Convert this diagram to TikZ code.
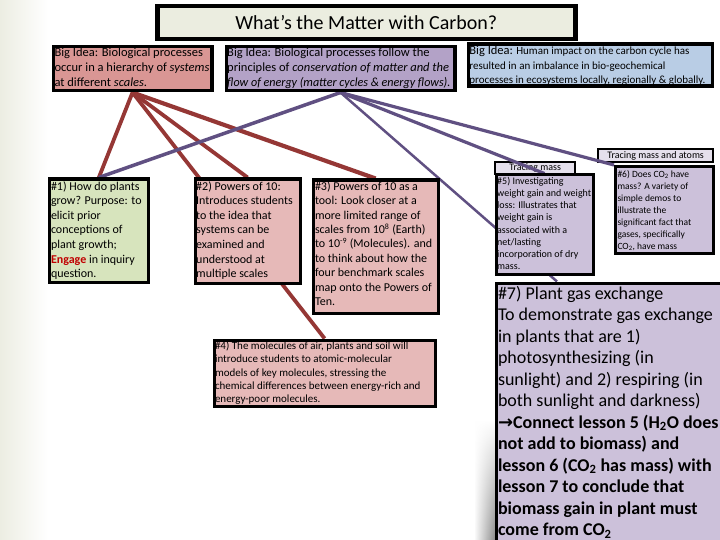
\documentclass[tikz,border=0pt]{standalone}
\usepackage{fontspec}
\setmainfont{Carlito}
\newfontfamily\symfont{DejaVu Sans}
\usetikzlibrary{calc,fadings}
\definecolor{titlefill}{RGB}{235,237,224}
\definecolor{bionefill}{RGB}{217,150,148}
\definecolor{bitwofill}{RGB}{179,162,199}
\definecolor{bithreefill}{RGB}{185,205,229}
\definecolor{greenfill}{RGB}{215,228,189}
\definecolor{pinkfill}{RGB}{230,185,184}
\definecolor{lavfill}{RGB}{204,193,218}
\definecolor{labfill}{RGB}{229,224,236}
\definecolor{redline}{RGB}{149,55,53}
\definecolor{purpline}{RGB}{96,80,130}
\definecolor{engred}{RGB}{192,0,0}
\definecolor{leftshade}{RGB}{236,237,226}
\pgfdeclarelayer{bg}
\pgfdeclarelayer{lab}
\pgfdeclarelayer{lines}
\pgfsetlayers{bg,lab,lines,main}
\tikzset{
  box/.style={draw=black, line width=3.2pt, inner sep=0pt, anchor=north west},
  labbox/.style={draw=black, line width=2.2pt, fill=labfill, inner sep=0pt, anchor=north west, font=\fontsize{10}{12}\selectfont},
  txt/.style={anchor=north west, inner sep=0pt, align=left},
  redln/.style={draw=redline, line width=3.8pt},
  purln/.style={draw=purpline, line width=3.2pt}
}
\begin{document}
\begin{tikzpicture}[x=1pt,y=-1pt]
\useasboundingbox (0,0) rectangle (720,540);
\begin{pgfonlayer}{bg}
\fill[white] (0,0) rectangle (720,540);
\shade[left color=leftshade, right color=white] (0,0) rectangle (48,540);
\shade[top color=white, bottom color={rgb,255:red,140;green,140;blue,140}, path fading=west] (474,420) rectangle (495,540);
\end{pgfonlayer}

% title
\node[box, line width=4.5pt, fill=titlefill, minimum width=418, minimum height=33, font=\fontsize{20}{24}\selectfont] (title) at (155,4) {What’s the Matter with Carbon?};

% big ideas
\node[box, line width=3.5pt, fill=bionefill, minimum width=158.5, minimum height=44] (bi1) at (51.5,45) {};
\node[txt, font=\fontsize{12.5}{15}\selectfont] (bi1t) at (54.3,45.5) {\strut Big Idea: Biological processes\\occur in a hierarchy of \textit{systems}\\at different \textit{scales.}};

\node[box, line width=3.5pt, fill=bitwofill, minimum width=228.5, minimum height=44] (bi2) at (224.5,45) {};
\node[txt, font=\fontsize{12.5}{15}\selectfont] (bi2t) at (227,45.5) {\strut Big Idea: Biological processes follow the\\principles of \textit{conservation of matter and the}\\{\addfontfeature{FakeStretch=0.965}\textit{flow of energy (matter cycles \& energy flows).}}};

\node[box, line width=3.5pt, fill=bithreefill, minimum width=244, minimum height=42] (bi3) at (466.5,42.5) {};
\node[txt, font=\fontsize{11}{14.5}\selectfont] (bi3t) at (469.2,44.2) {\strut{\fontsize{12.5}{14.5}\selectfont Big Idea:} Human impact on the carbon cycle has\\resulted in an imbalance in bio-geochemical\\processes in ecosystems locally, regionally \& globally.};

% lesson boxes
\node[box, fill=greenfill, minimum width=99.5, minimum height=103.5] (n1) at (47.5,177.5) {};
\node[txt, font=\fontsize{12}{14.6}\selectfont] (n1t) at (50.8,179.6) {\strut\#1) How do plants\\grow? Purpose: to\\elicit prior\\conceptions of\\plant growth;\\{\color{engred}\textbf{Engage}} in inquiry\\question.};

\node[box, fill=pinkfill, minimum width=105, minimum height=104.5] (n2) at (193.5,177.5) {};
\node[txt, font=\fontsize{12}{14.6}\selectfont] (n2t) at (196,179.6) {\strut\#2) Powers of 10:\\Introduces students\\to the idea that\\systems can be\\examined and\\understood at\\multiple scales};

\node[box, fill=pinkfill, minimum width=125, minimum height=133] (n3) at (311.5,178.5) {};
\node[txt, font=\fontsize{12}{14.4}\selectfont] (n3t) at (314.8,180) {\strut\#3) Powers of 10 as a\\tool: Look closer at a\\more limited range of\\scales from 10\textsuperscript{8} (Earth)\\to 10\textsuperscript{-9} (Molecules). and\\to think about how the\\four benchmark scales\\map onto the Powers of\\Ten.};

\node[box, fill=pinkfill, minimum width=221, minimum height=66.5] (n4) at (212.5,338.5) {};
\node[txt, font=\fontsize{11}{13.2}\selectfont] (n4t) at (214.8,340.3) {\strut\#4) The molecules of air, plants and soil will\\introduce students to atomic-molecular\\models of key molecules, stressing the\\chemical differences between energy-rich and\\energy-poor molecules.};

\begin{pgfonlayer}{lab}
\node[labbox, minimum width=80, minimum height=12] (lab5) at (494,161) {Tracing mass};
\node[labbox, minimum width=115, minimum height=13] (lab6) at (597,148) {Tracing mass and atoms};
\end{pgfonlayer}

\node[box, line width=3pt, fill=lavfill, minimum width=97, minimum height=99.5] (n5) at (494.5,173.5) {};
\node[txt, font=\fontsize{10}{12.2}\selectfont] (n5t) at (497,175.5) {\strut\#5) Investigating\\weight gain and weight\\loss: Illustrates that\\weight gain is\\associated with a\\net/lasting\\incorporation of dry\\mass.};

\node[box, line width=3pt, fill=lavfill, minimum width=98, minimum height=87] (n6) at (614,165) {};
\node[txt, font=\fontsize{9.5}{12.1}\selectfont] (n6t) at (617.3,168.5) {\strut\#6) Does CO\textsubscript{2} have\\mass? A variety of\\simple demos to\\illustrate the\\significant fact that\\gases, specifically\\CO\textsubscript{2}, have mass};

\node[box, line width=3pt, fill=lavfill, minimum width=230, minimum height=265] (n7) at (495,281.5) {};
\node[txt, font=\fontsize{18}{21.45}\selectfont] (n7t) at (497.8,284.3) {\strut\#7) Plant gas exchange\\To demonstrate gas exchange\\in plants that are 1)\\photosynthesizing (in\\sunlight) and 2) respiring (in\\both sunlight and darkness)\\\textbf{{\symfont →}Connect lesson 5 (H\textsubscript{2}O does}\\\textbf{not add to biomass) and}\\\textbf{lesson 6 (CO\textsubscript{2} has mass) with}\\\textbf{lesson 7 to conclude that}\\\textbf{biomass gain in plant must}\\\textbf{come from CO\textsubscript{2}}};

\coordinate (n7in) at ($(n7.north west)+(62,0)$);

\begin{pgfonlayer}{lines}
\draw[redln] (bi1.south) -- (n1.north);
\draw[redln] (bi1.south) -- (n4.north);
\draw[redln] (bi1.south) -- (n2.north);
\draw[redln, line width=4.2pt] (bi1.south) -- (n3.north);
\draw[purln, line width=3.5pt] (bi2.south) -- (n1.north);
\draw[purln, line width=2.5pt] (bi2.south) -- (n7in);
\draw[purln] (bi2.south) -- (n5.north);
\draw[purln] (bi2.south) -- (n6.north west);
\end{pgfonlayer}
\end{tikzpicture}
\end{document}
